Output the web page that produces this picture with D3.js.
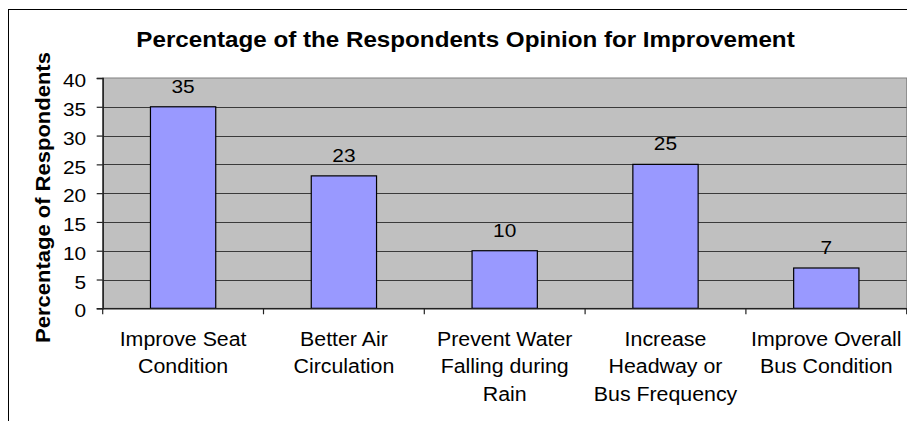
<!DOCTYPE html>
<html>
<head>
<meta charset="utf-8">
<script src="https://cdn.jsdelivr.net/npm/d3@7"></script>
<style>
  html, body { margin: 0; padding: 0; background: #fff; }
  svg { display: block; }
  text { font-family: "Liberation Sans", Arial, sans-serif; fill: #000; }
</style>
</head>
<body>
<svg id="chart" width="907" height="421"></svg>
<script>
const title = "Percentage of the Respondents Opinion for Improvement";
const yTitle = "Percentage of Respondents";
const categories = [
  "Improve Seat Condition",
  "Better Air Circulation",
  "Prevent Water Falling during Rain",
  "Increase Headway or Bus Frequency",
  "Improve Overall Bus Condition"
];
const categoryLines = [
  ["Improve Seat", "Condition"],
  ["Better Air", "Circulation"],
  ["Prevent Water", "Falling during", "Rain"],
  ["Increase", "Headway or", "Bus Frequency"],
  ["Improve Overall", "Bus Condition"]
];
const values = [35, 23, 10, 25, 7];
const yTicks = [0, 5, 10, 15, 20, 25, 30, 35, 40];

const svg = d3.select("#chart");
const plot = { left: 102.7, right: 906.7, top: 78, bottom: 308.3 };
const SX = 1.1; // horizontal stretch of glyphs along text direction

// outer chart border (cropped at right/bottom)
svg.append("rect")
  .attr("x", 8.5).attr("y", 9.5).attr("width", 1000).attr("height", 1000)
  .attr("fill", "#fff").attr("stroke", "#000").attr("stroke-width", 1);

const x = d3.scaleBand().domain(categories).range([plot.left, plot.right]).paddingInner(0).paddingOuter(0);
const y = d3.scaleLinear().domain([0, 40]).range([plot.bottom, plot.top]);

// plot background
svg.append("rect")
  .attr("x", plot.left).attr("y", plot.top)
  .attr("width", plot.right - plot.left).attr("height", plot.bottom - plot.top)
  .attr("fill", "#C0C0C0").attr("stroke", "#808080").attr("stroke-width", 1);

// gridlines
svg.append("g").selectAll("line").data(yTicks.filter(d => d > 0 && d < 40)).join("line")
  .attr("x1", plot.left).attr("x2", plot.right)
  .attr("y1", d => Math.round(y(d)) + 0.5).attr("y2", d => Math.round(y(d)) + 0.5)
  .attr("stroke", "#3a3a3a").attr("stroke-width", 1);

// bars
const barW = x.bandwidth() * 0.406;
svg.append("g").selectAll("rect").data(values).join("rect")
  .attr("x", (d, i) => x(categories[i]) + (x.bandwidth() - barW) / 2)
  .attr("y", d => y(d))
  .attr("width", barW)
  .attr("height", d => y(0) - y(d))
  .attr("fill", "#9999FF").attr("stroke", "#000").attr("stroke-width", 1.2);

// y axis
const yAxis = d3.axisLeft(y).tickValues(yTicks).tickSize(6).tickFormat(d3.format("d"));
const ya = svg.append("g").attr("transform", `translate(${plot.left},0)`).call(yAxis);
ya.select(".domain").attr("stroke", "#222").attr("stroke-width", 1.5);
ya.selectAll(".tick line").attr("stroke", "#222").attr("stroke-width", 1.2);
ya.selectAll(".tick text").remove();
ya.selectAll(".tick").append("text")
  .attr("text-anchor", "end")
  .attr("dy", "0.35em")
  .attr("transform", `translate(-16.5,2) scale(${SX},1)`)
  .style("font-size", "19px")
  .text(d => d);

// x axis
const xAxis = d3.axisBottom(x).tickSize(0).tickFormat("");
const xa = svg.append("g").attr("transform", `translate(0,${plot.bottom})`).call(xAxis);
xa.select(".domain").attr("stroke", "#222").attr("stroke-width", 1.5);
xa.selectAll(".tick").remove();
const boundaries = categories.map(c => x(c)).concat([x(categories[categories.length - 1]) + x.bandwidth()]);
xa.selectAll("line.bt").data(boundaries).join("line").attr("class", "bt")
  .attr("x1", d => d).attr("x2", d => d).attr("y1", 0).attr("y2", 6)
  .attr("stroke", "#222").attr("stroke-width", 1.2);

// category labels
const lineH = 27.4;
categories.forEach((c, i) => {
  const cx = x(c) + x.bandwidth() / 2;
  categoryLines[i].forEach((ln, j) => {
    svg.append("text")
      .attr("text-anchor", "middle")
      .attr("transform", `translate(${cx},${345.7 + j * lineH}) scale(${SX},1)`)
      .style("font-size", "19.4px")
      .text(ln);
  });
});

// data labels
svg.append("g").selectAll("text").data(values).join("text")
  .attr("text-anchor", "middle")
  .attr("transform", (d, i) => `translate(${x(categories[i]) + x.bandwidth() / 2},${y(d) - 14}) scale(${SX},1)`)
  .style("font-size", "19px")
  .text(d => d);

// title
svg.append("text")
  .attr("text-anchor", "middle")
  .attr("transform", `translate(465.5,46.7) scale(${SX},1)`)
  .style("font-size", "22px").style("font-weight", "bold")
  .text(title);

// y title
svg.append("text")
  .attr("text-anchor", "middle")
  .attr("transform", `translate(50,197.5) rotate(-90) scale(${SX},1)`)
  .style("font-size", "20px").style("font-weight", "bold")
  .text(yTitle);
</script>
</body>
</html>
